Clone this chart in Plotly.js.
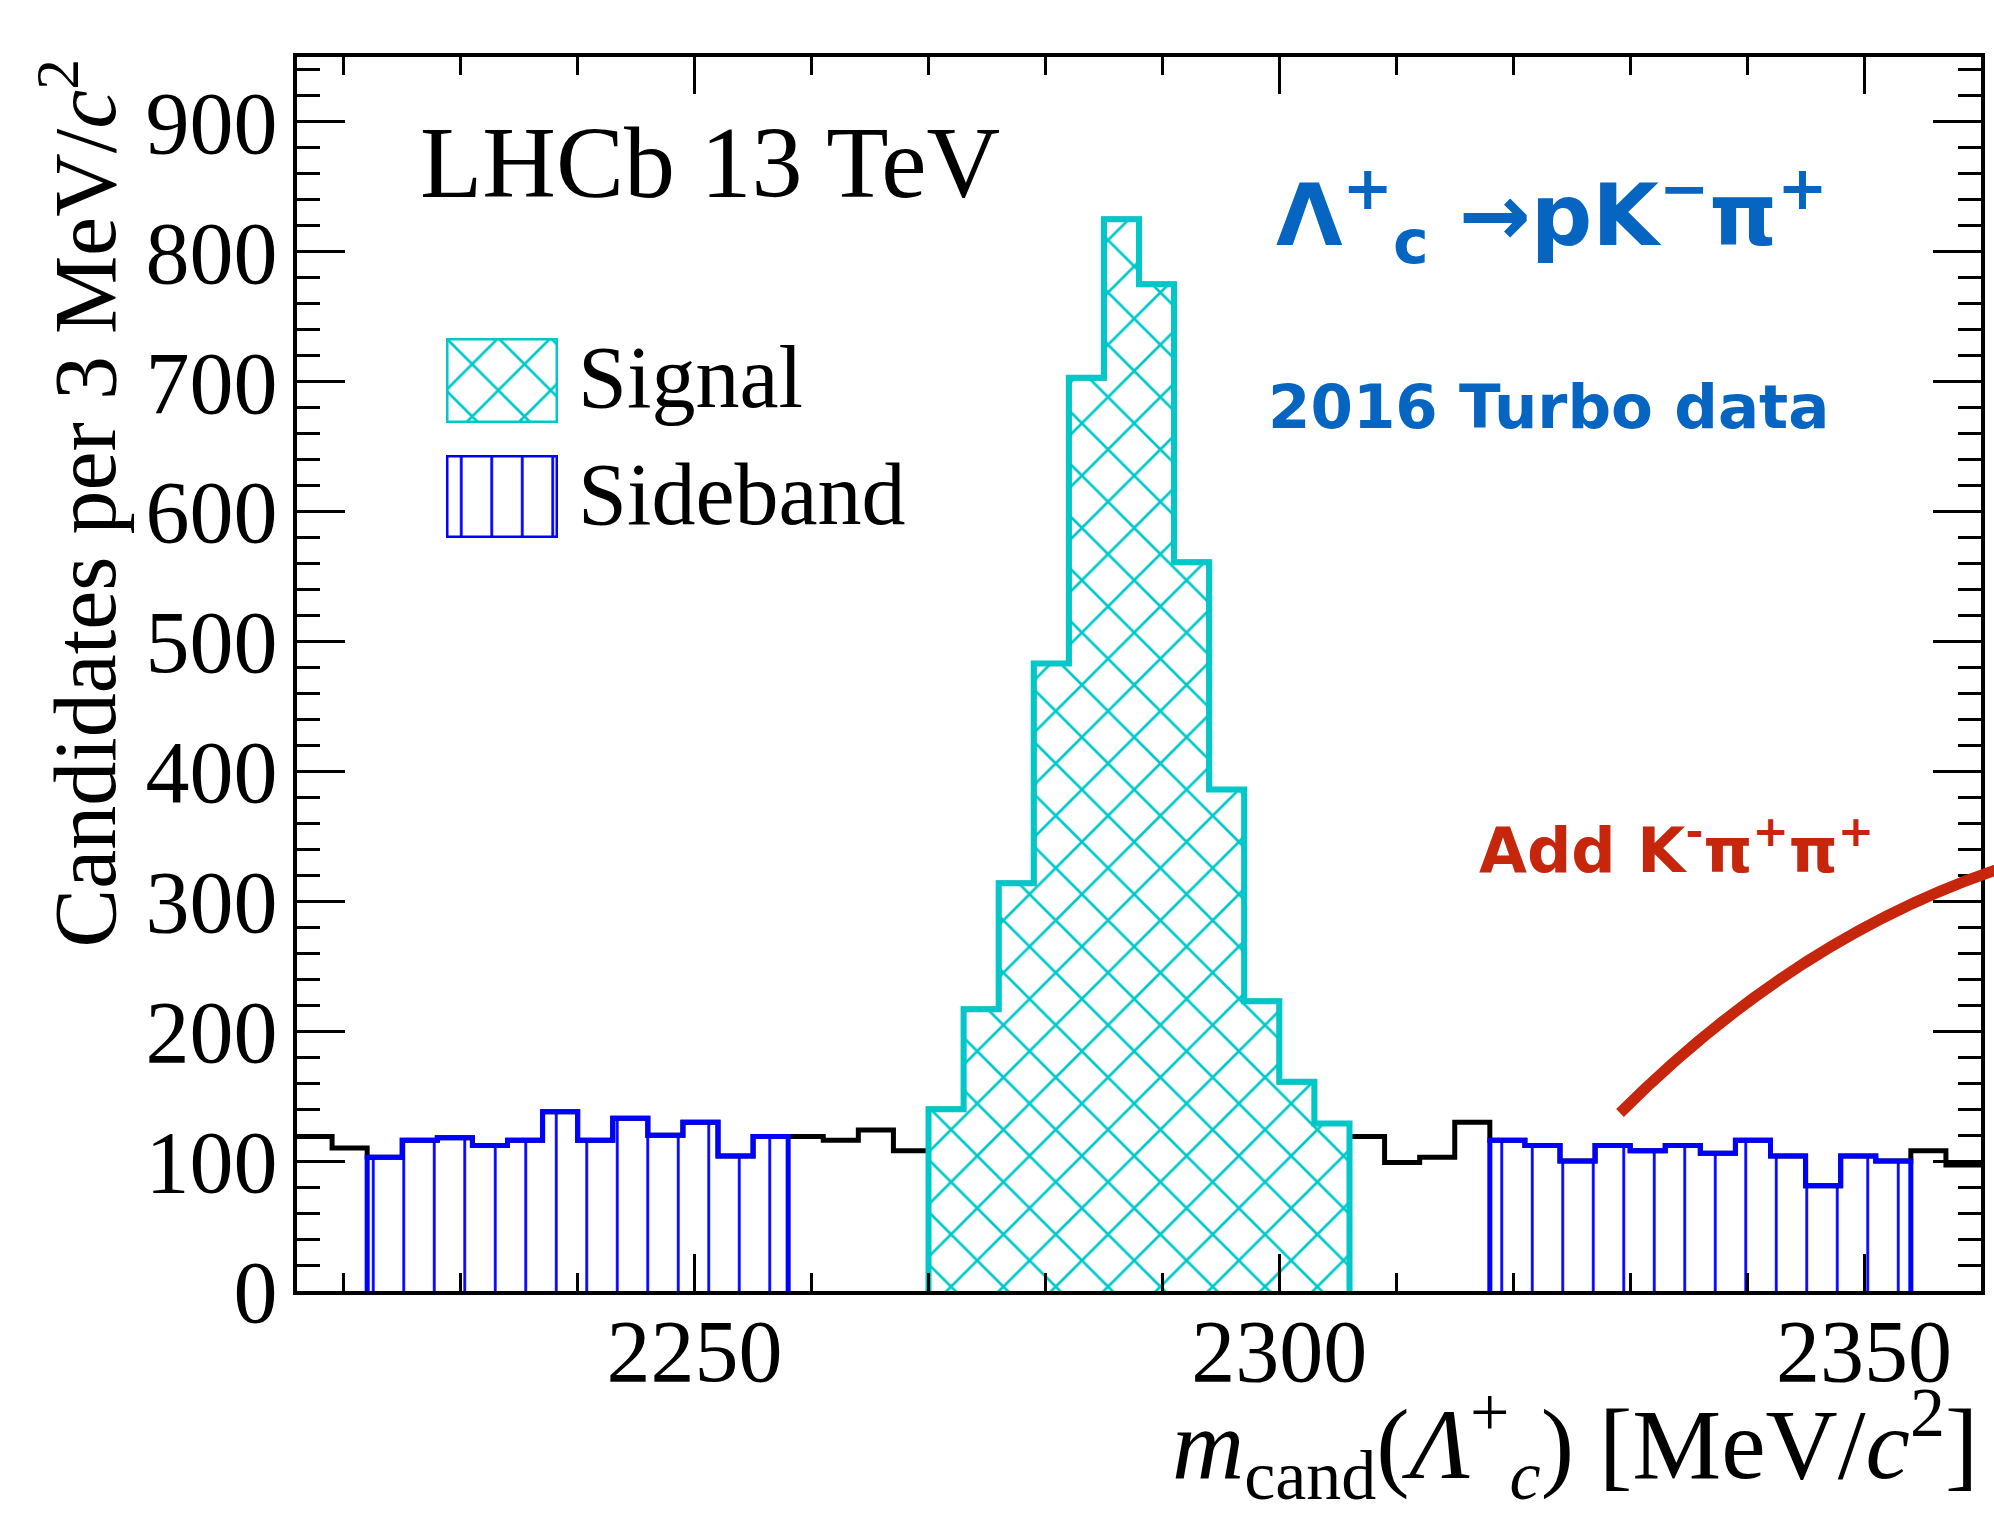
<!DOCTYPE html>
<html>
<head>
<meta charset="utf-8">
<script src="https://cdn.plot.ly/plotly-3.0.1.min.js"></script>
<style>
html, body { margin: 0; padding: 0; background: #ffffff; }
#chart { width: 1994px; height: 1513px; }
</style>
</head>
<body>
<div id="chart"></div>
<script>
// ---------------- data ----------------
// bin centres of the 3 MeV/c^2 mass bins
const massBins = [
  2217.5, 2220.5, 2223.5, 2226.5, 2229.5, 2232.5, 2235.5, 2238.5,
  2241.5, 2244.5, 2247.5, 2250.5, 2253.5, 2256.5, 2259.5, 2262.5,
  2265.5, 2268.5, 2271.5, 2274.5, 2277.5, 2280.5, 2283.5, 2286.5,
  2289.5, 2292.5, 2295.5, 2298.5, 2301.5, 2304.5, 2307.5, 2310.5,
  2313.5, 2316.5, 2319.5, 2322.5, 2325.5, 2328.5, 2331.5, 2334.5,
  2337.5, 2340.5, 2343.5, 2346.5, 2349.5, 2352.5, 2355.5, 2358.5
];
// candidates per bin (all candidates)
const candidates = [
  119, 110, 103, 116, 118, 112, 116, 138,
  116, 133, 120, 130, 104, 119, 119, 116,
  124, 108, 140, 217, 314, 483, 703, 825,
  775, 561, 386, 223, 161, 129, 119, 99,
  103, 130, 116, 112, 100, 112, 108, 112,
  106, 116, 104, 81, 104, 100, 108, 97
];
const binWidth = 3;
// selection windows [low edge, high edge]
const signalWindow = [2270, 2306];
const sidebandWindows = [[2222, 2258], [2318, 2354]];
const xTickValues = [2250, 2300, 2350];
const legendLabels = ['Signal', 'Sideband'];

// ---------------- helpers ----------------
const L = 297, R = 13, T = 57, B = 222, W = 1994, H = 1513;
const PW = W - L - R, PH = H - T - B;
const px = v => (v - L) / PW;          // pixel -> paper x
const py = v => (H - B - v) / PH;      // pixel -> paper y

function selectWindow(win) {
  const c = [], n = [];
  massBins.forEach((m, i) => {
    if (m > win[0] && m < win[1]) { c.push(m); n.push(candidates[i]); }
  });
  return { c, n };
}
// closed step outline (hv) of a set of contiguous bins
function outline(sel) {
  const x = [sel.c[0] - binWidth / 2], y = [0];
  sel.c.forEach((c, i) => { x.push(c - binWidth / 2); y.push(sel.n[i]); });
  const last = sel.c[sel.c.length - 1] + binWidth / 2;
  x.push(last); y.push(sel.n[sel.n.length - 1]);
  x.push(last); y.push(0);
  return { x, y };
}

const cyan = '#00c8c8';
const blue = '#0000ff';
const textBlue = '#0565c0';
const textRed = '#c5260c';

// full histogram outline
const allX = massBins.map(c => c - binWidth / 2).concat([massBins[massBins.length - 1] + binWidth / 2]);
const allY = candidates.concat([candidates[candidates.length - 1]]);

const sig = selectWindow(signalWindow);
const sbs = sidebandWindows.map(selectWindow);
const sbC = [].concat(...sbs.map(s => s.c));
const sbN = [].concat(...sbs.map(s => s.n));

const sigOut = outline(sig);
let sbOutX = [], sbOutY = [];
sbs.forEach((s, i) => {
  const o = outline(s);
  if (i > 0) { sbOutX.push(null); sbOutY.push(null); }
  sbOutX = sbOutX.concat(o.x); sbOutY = sbOutY.concat(o.y);
});

const sigPattern = { shape: 'x', size: 37, solidity: 0.14, fgcolor: cyan, bgcolor: 'white', fillmode: 'replace' };
const sbPattern = { shape: '|', size: 30.5, solidity: 0.09, fgcolor: blue, bgcolor: 'white', fillmode: 'replace' };

const traces = [
  { type: 'scatter', mode: 'lines', x: allX, y: allY, line: { color: 'black', width: 5, shape: 'hv' }, hoverinfo: 'skip' },
  { type: 'bar', x: sig.c, y: sig.n, width: binWidth, marker: { color: 'white', line: { width: 0 }, pattern: sigPattern }, hoverinfo: 'skip' },
  { type: 'bar', x: sbC, y: sbN, width: binWidth, marker: { color: 'white', line: { width: 0 }, pattern: sbPattern }, hoverinfo: 'skip' },
  { type: 'scatter', mode: 'lines', x: sigOut.x, y: sigOut.y, line: { color: cyan, width: 6, shape: 'hv' }, hoverinfo: 'skip' },
  { type: 'scatter', mode: 'lines', x: sbOutX, y: sbOutY, connectgaps: false, line: { color: blue, width: 5, shape: 'hv' }, hoverinfo: 'skip' },
  // legend keys
  { type: 'bar', x: [0], y: [1], width: [1], xaxis: 'x2', yaxis: 'y2', cliponaxis: false,
    marker: { color: 'white', line: { color: cyan, width: 5 }, pattern: sigPattern }, hoverinfo: 'skip' },
  { type: 'bar', x: [0], y: [1], width: [1], xaxis: 'x3', yaxis: 'y3', cliponaxis: false,
    marker: { color: 'white', line: { color: blue, width: 5 }, pattern: sbPattern }, hoverinfo: 'skip' }
];

const serif = 'Liberation Serif, Times New Roman, serif';
const bold = 'DejaVu Sans, sans-serif';

const hidden = (dom, rng, anchor) => ({ domain: dom, range: rng, visible: false, fixedrange: true, anchor: anchor });

const layout = {
  width: W, height: H,
  margin: { l: L, r: R, t: T, b: B, pad: 0 },
  paper_bgcolor: 'white', plot_bgcolor: 'white',
  showlegend: false, barmode: 'overlay', bargap: 0,
  font: { family: serif, color: 'black' },
  xaxis: {
    range: [2216, 2360], showline: true, linewidth: 4, linecolor: 'black', mirror: 'ticks',
    ticks: 'inside', ticklen: 37, tickwidth: 3, tickcolor: 'black',
    tickmode: 'array', tickvals: xTickValues, ticktext: xTickValues.map(String),
    tickfont: { family: serif, size: 88, color: 'black' }, ticklabelstandoff: -20,
    minor: { dtick: 10, tick0: 2250, ticks: 'inside', ticklen: 18, tickwidth: 3, tickcolor: 'black', showgrid: false },
    showgrid: false, zeroline: false, fixedrange: true
  },
  yaxis: {
    range: [0, 950], showline: true, linewidth: 4, linecolor: 'black', mirror: 'ticks',
    ticks: 'inside', ticklen: 48, tickwidth: 3, tickcolor: 'black', dtick: 100, tick0: 0,
    tickfont: { family: serif, size: 88, color: 'black' }, ticklabelstandoff: -2,
    minor: { dtick: 20, tick0: 0, ticks: 'inside', ticklen: 23, tickwidth: 3, tickcolor: 'black', showgrid: false },
    showgrid: false, zeroline: false, fixedrange: true
  },
  xaxis2: hidden([px(446), px(558)], [-0.5, 0.5], 'y2'),
  yaxis2: hidden([py(423), py(338)], [0, 1], 'x2'),
  xaxis3: hidden([px(446), px(558)], [-0.5, 0.5], 'y3'),
  yaxis3: hidden([py(538), py(455)], [0, 1], 'x3'),
  annotations: [
    { text: 'LHCb 13 TeV', xref: 'paper', yref: 'paper', x: px(418), y: py(163), xanchor: 'left', yanchor: 'middle',
      showarrow: false, font: { family: serif, size: 102, color: 'black' } },
    { text: legendLabels[0], xref: 'paper', yref: 'paper', x: px(576), y: py(378), xanchor: 'left', yanchor: 'middle',
      showarrow: false, font: { family: serif, size: 88, color: 'black' } },
    { text: legendLabels[1], xref: 'paper', yref: 'paper', x: px(576), y: py(494), xanchor: 'left', yanchor: 'middle',
      showarrow: false, font: { family: serif, size: 88, color: 'black' } },
    { text: '<b>Λ<sup>+</sup><sub>c</sub> →pK<sup>−</sup>π<sup>+</sup></b>', xref: 'paper', yref: 'paper',
      x: px(1274), y: py(215), xanchor: 'left', yanchor: 'middle', showarrow: false,
      font: { family: bold, size: 86, color: textBlue } },
    { text: '<b>2016 Turbo data</b>', xref: 'paper', yref: 'paper', x: px(1266), y: py(406), xanchor: 'left', yanchor: 'middle',
      showarrow: false, font: { family: bold, size: 61, color: textBlue } },
    { text: '<b>Add K<sup>-</sup>π<sup>+</sup>π<sup>+</sup></b>', xref: 'paper', yref: 'paper', x: px(1477), y: py(846),
      xanchor: 'left', yanchor: 'middle', showarrow: false, font: { family: bold, size: 62, color: textRed } },
    { text: 'Candidates per 3 MeV/<i>c</i><sup>2</sup>', xref: 'paper', yref: 'paper', x: px(79), y: py(57),
      xanchor: 'center', yanchor: 'top', textangle: -90, showarrow: false, font: { family: serif, size: 88, color: 'black' } },
    { text: '<i>m</i><sub>cand</sub>(<i>Λ</i><sup>+</sup><sub><i>c</i></sub>) [MeV/<i>c</i><sup>2</sup>]', xref: 'paper', yref: 'paper',
      x: px(1980), y: py(1372), xanchor: 'right', yanchor: 'top', showarrow: false,
      font: { family: serif, size: 100, color: 'black' } }
  ],
  shapes: [
    { type: 'path', xref: 'paper', yref: 'paper', layer: 'above',
      path: 'M' + px(1620) + ',' + py(1113) + ' Q' + px(1794) + ',' + py(939) + ' ' + px(1996) + ',' + py(870),
      line: { color: textRed, width: 11 } }
  ]
};

Plotly.newPlot('chart', traces, layout, { staticPlot: true, displayModeBar: false });
</script>
</body>
</html>
